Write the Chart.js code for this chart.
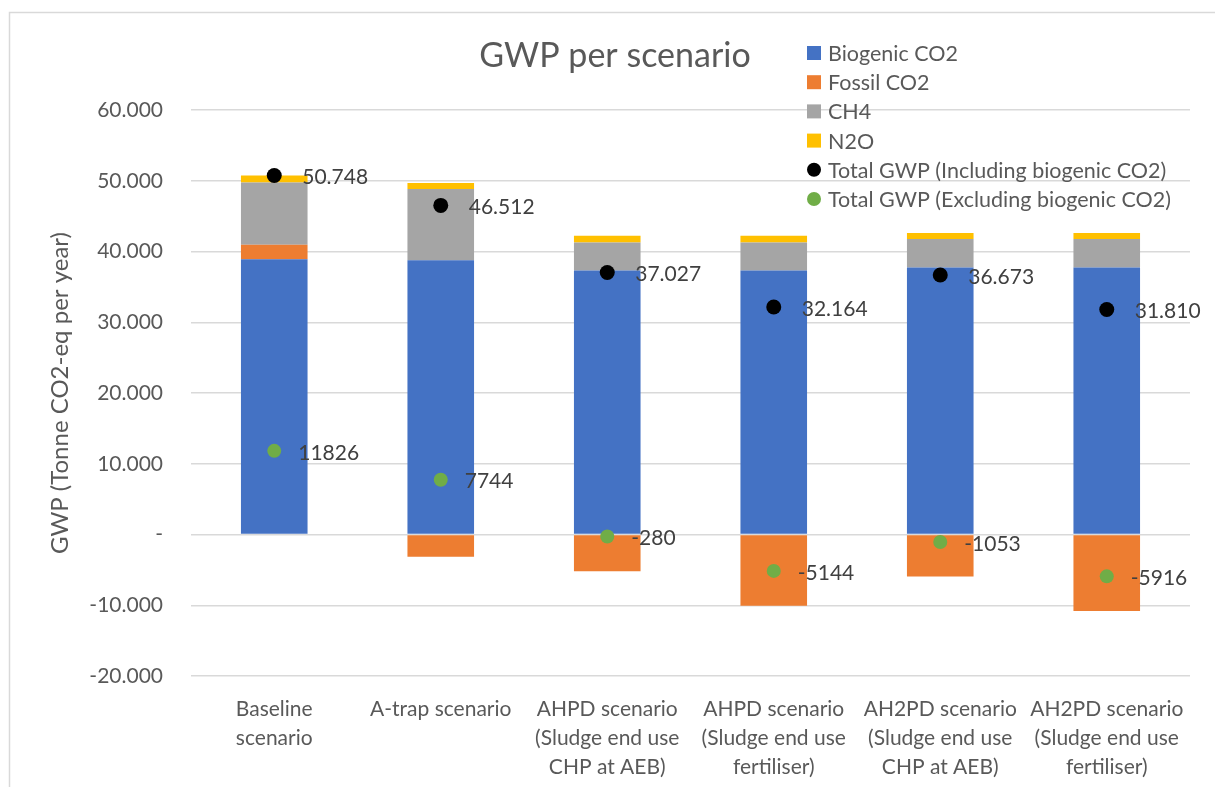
<!DOCTYPE html>
<html lang="en">
<head>
  <meta charset="UTF-8">
  <title>GWP per scenario</title>
  <style>
    html, body { margin: 0; padding: 0; background: #fff; }
  </style>
</head>
<body>
  <canvas id="chart" width="1215" height="787"></canvas>
  <script src="https://cdn.jsdelivr.net/npm/chart.js@4/dist/chart.umd.min.js"></script>
  <script>
    const scenarios = [
      ['Baseline', 'scenario'],
      ['A-trap scenario'],
      ['AHPD scenario', '(Sludge end use', 'CHP at AEB)'],
      ['AHPD scenario', '(Sludge end use', 'fertiliser)'],
      ['AH2PD scenario', '(Sludge end use', 'CHP at AEB)'],
      ['AH2PD scenario', '(Sludge end use', 'fertiliser)']
    ]
    const biogenicCO2 = [38922, 38768, 37307, 37308, 37726, 37726]
    const fossilCO2 = [2038, -3162, -5204, -10068, -5940, -10803]
    const ch4 = [8800, 10059, 3978, 3978, 4039, 4039]
    const n2o = [988, 847, 946, 946, 848, 848]
    const totalIncl = [50748, 46512, 37027, 32164, 36673, 31810]
    const totalExcl = [11826, 7744, -280, -5144, -1053, -5916]

    const grey = '#595959'
    const fontName = 'Lato, "Open Sans", sans-serif'

    // danish style thousands: 50748 -> 50.748
    function dots(v) {
      const s = String(Math.abs(v)).replace(/\B(?=(\d{3})+(?!\d))/g, '.')
      return (v < 0 ? '-' : '') + s
    }

    const extras = {
      id: 'extras',
      beforeDraw(chart) {
        const c = chart.ctx
        c.save()
        c.strokeStyle = '#d9d9d9'
        c.lineWidth = 1.5
        c.strokeRect(9.5, 12.5, 1300, 900)
        c.restore()
      },
      afterDatasetsDraw(chart) {
        const c = chart.ctx
        c.save()
        c.font = '21px ' + fontName
        c.fillStyle = '#404040'
        c.textBaseline = 'middle'
        c.textAlign = 'left'
        chart.getDatasetMeta(4).data.forEach((p, i) => {
          c.fillText(dots(totalIncl[i]), p.x + 28, p.y + 2)
        })
        chart.getDatasetMeta(5).data.forEach((p, i) => {
          c.fillText(String(totalExcl[i]), p.x + 24, p.y + 2)
        })
        c.restore()
      },
      afterDraw(chart) {
        const c = chart.ctx
        c.save()
        // title
        c.fillStyle = grey
        c.font = '34px ' + fontName
        c.textAlign = 'center'
        c.textBaseline = 'middle'
        c.fillText('GWP per scenario', 615, 56)
        // legend
        c.font = '21.5px ' + fontName
        c.textAlign = 'left'
        chart.data.datasets.forEach((ds, i) => {
          const y = 53 + i * 29.2
          c.fillStyle = ds.backgroundColor
          if (ds.type === 'line') {
            c.beginPath()
            c.arc(814, y, 7, 0, Math.PI * 2)
            c.fill()
          } else {
            c.fillRect(807, y - 7, 14, 14)
          }
          c.fillStyle = grey
          c.fillText(ds.label, 828, y + 1)
        })
        c.restore()
      }
    }

    const ctx = document.getElementById('chart').getContext('2d')
    new Chart(ctx, {
      type: 'bar',
      data: {
        labels: scenarios,
        datasets: [
          { label: 'Biogenic CO2', data: biogenicCO2, backgroundColor: '#4472c4', order: 1 },
          { label: 'Fossil CO2', data: fossilCO2, backgroundColor: '#ed7d31', order: 1 },
          { label: 'CH4', data: ch4, backgroundColor: '#a5a5a5', order: 1 },
          { label: 'N2O', data: n2o, backgroundColor: '#ffc000', order: 1 },
          {
            type: 'line', label: 'Total GWP (Including biogenic CO2)', data: totalIncl,
            stack: 'incl', showLine: false, backgroundColor: '#000000', borderColor: '#000000',
            pointRadius: 7.5, pointBorderWidth: 0, order: 0
          },
          {
            type: 'line', label: 'Total GWP (Excluding biogenic CO2)', data: totalExcl,
            stack: 'excl', showLine: false, backgroundColor: '#70ad47', borderColor: '#70ad47',
            pointRadius: 7, pointBorderWidth: 0, order: 0
          }
        ]
      },
      options: {
        responsive: false,
        animation: false,
        barPercentage: 0.4,
        categoryPercentage: 1,
        layout: { padding: { top: 110, right: 25, bottom: 0, left: 0 } },
        plugins: {
          legend: { display: false },
          tooltip: { enabled: false }
        },
        scales: {
          x: {
            stacked: true,
            grid: { display: false, drawTicks: false },
            border: { display: false },
            ticks: {
              color: grey,
              padding: 19,
              maxRotation: 0,
              autoSkip: false,
              font: { family: fontName, size: 21, lineHeight: 1.38 }
            },
            afterFit(scale) { scale.height = 111 }
          },
          y: {
            stacked: true,
            min: -20000,
            max: 60000,
            grid: { color: '#d9d9d9', lineWidth: 1.5, drawTicks: false },
            border: { display: false },
            ticks: {
              stepSize: 10000,
              color: grey,
              padding: 28,
              font: { family: fontName, size: 21 },
              callback: v => v === 0 ? '-' : dots(v)
            },
            title: {
              display: true,
              text: 'GWP (Tonne CO2-eq per year)',
              color: grey,
              font: { family: fontName, size: 24 },
              padding: { top: 46, bottom: 0 }
            },
            afterFit(scale) { scale.width = 191 }
          }
        }
      },
      plugins: [extras]
    })
  </script>
</body>
</html>
